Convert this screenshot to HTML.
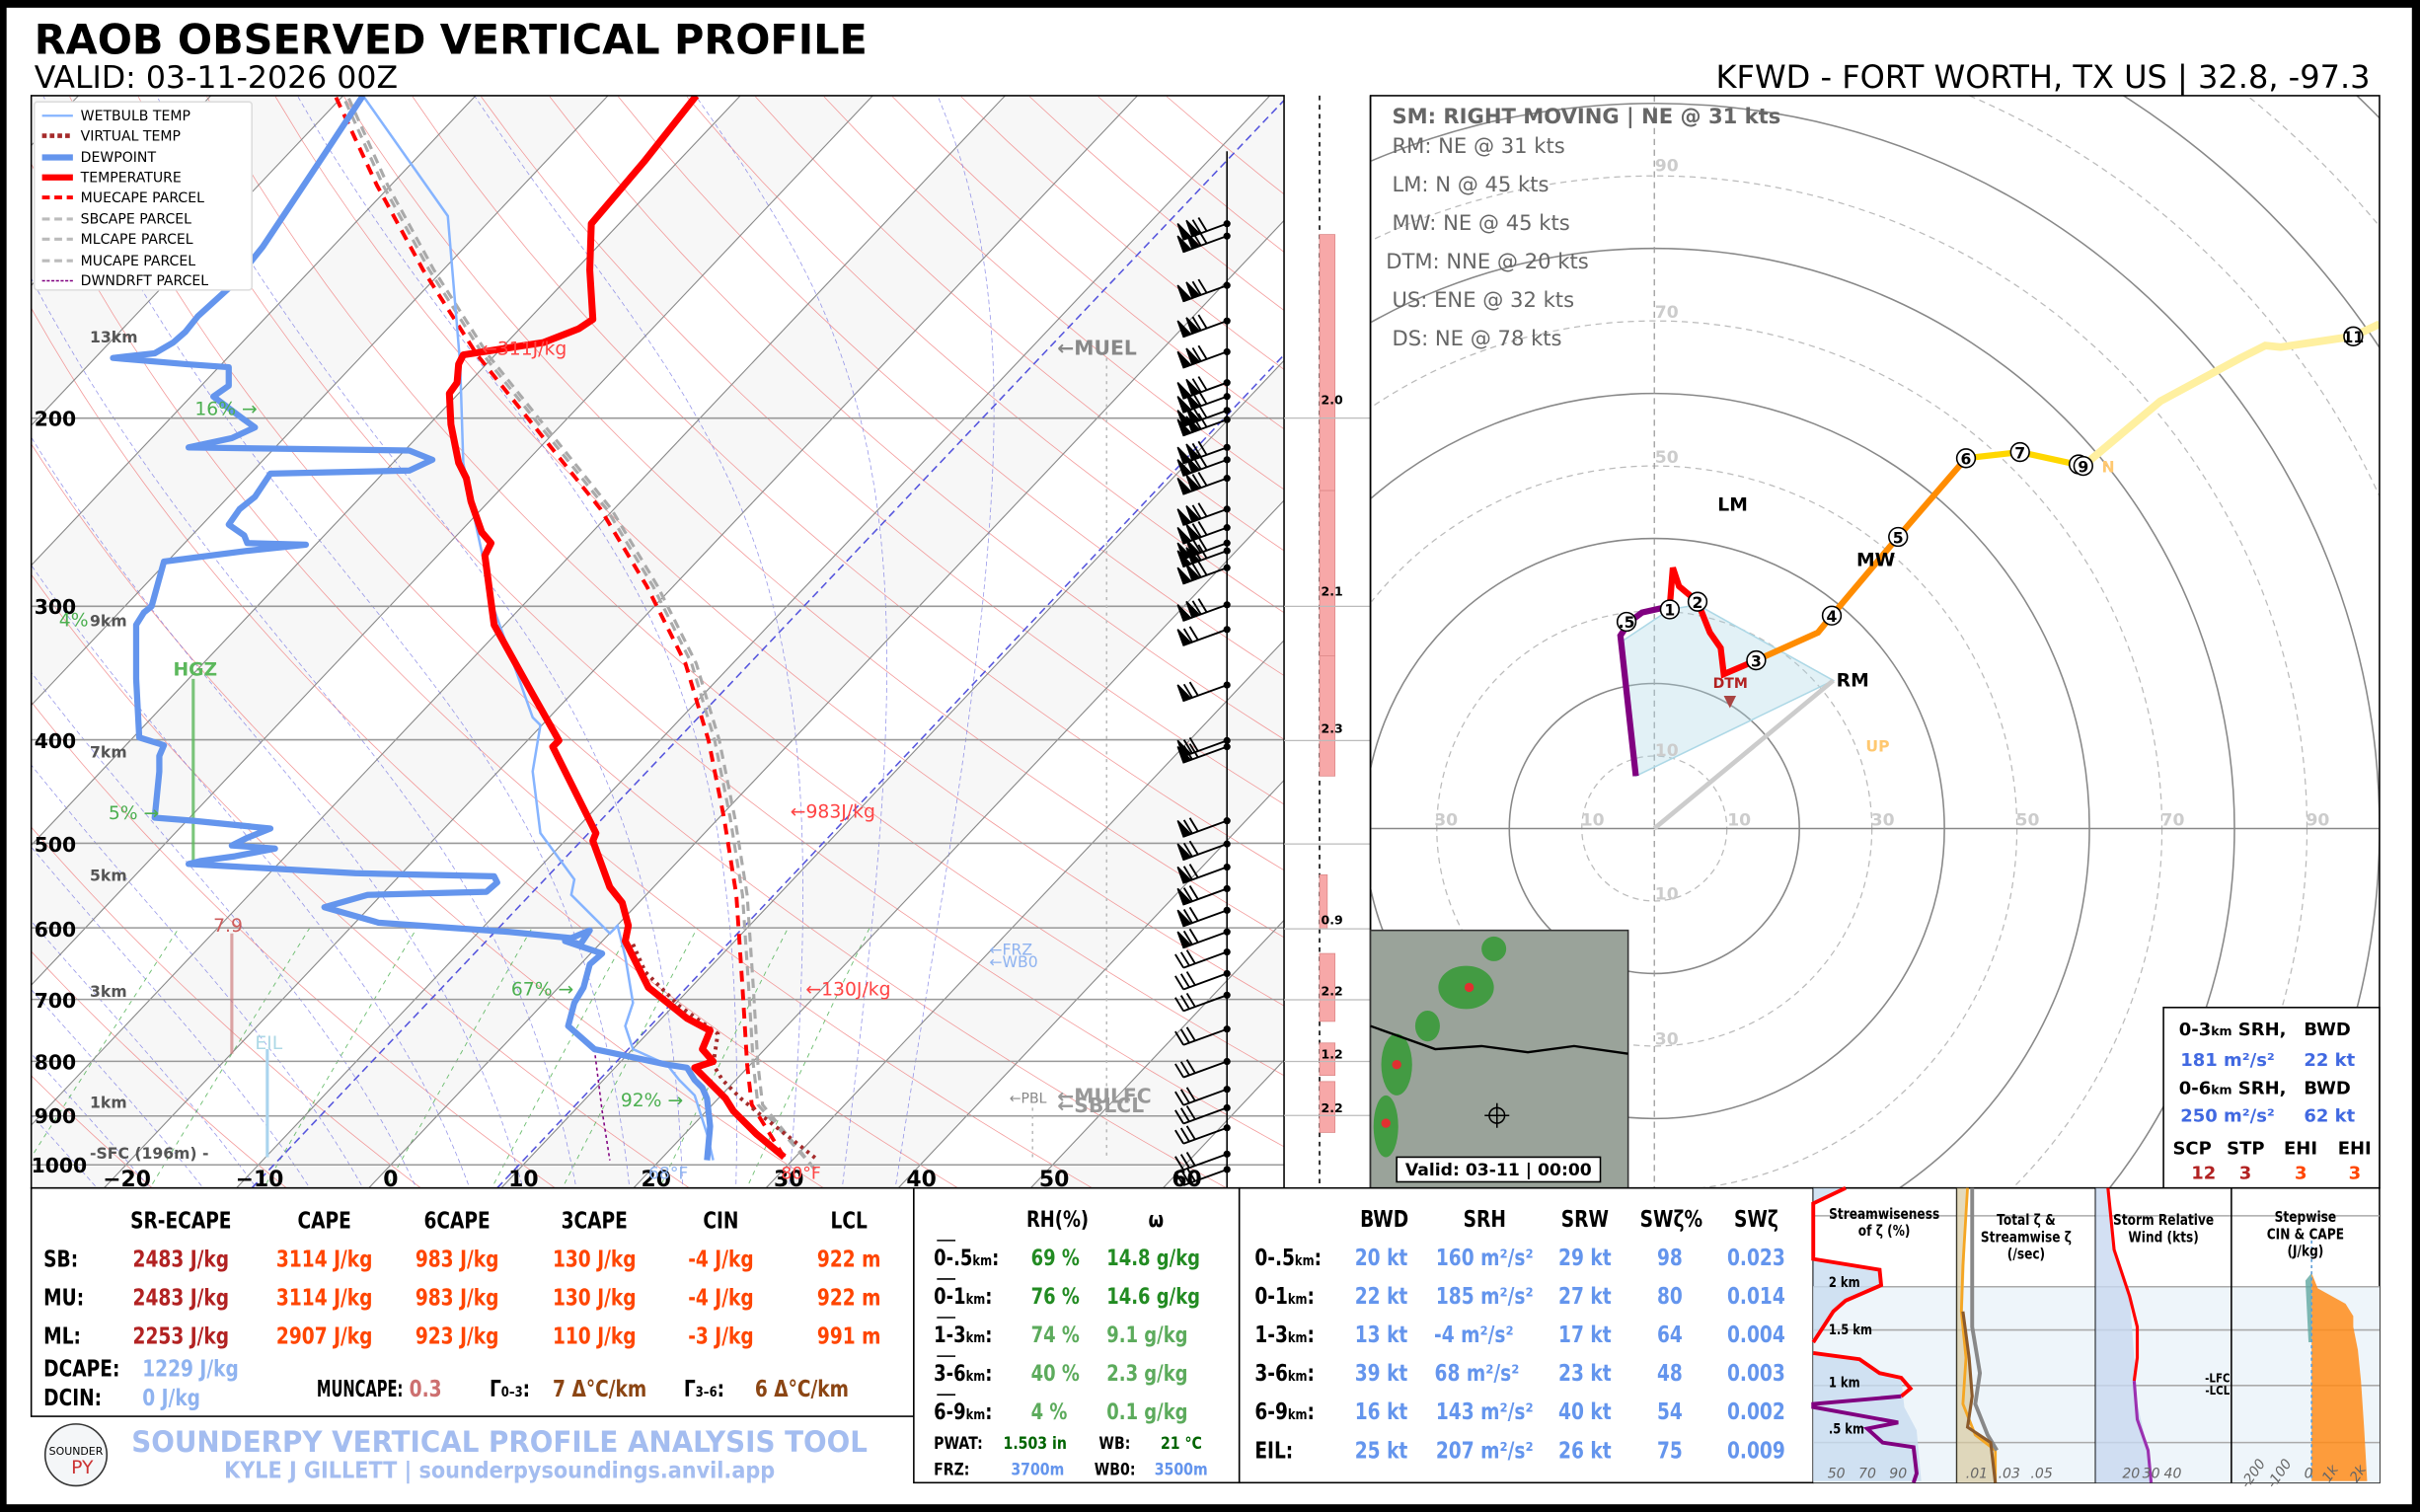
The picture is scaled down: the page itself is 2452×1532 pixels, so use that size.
<!DOCTYPE html>
<html><head><meta charset="utf-8">
<style>
html,body{margin:0;padding:0;background:#000;overflow:hidden;width:2452px;height:1532px;}
svg{display:block;}
text{font-family:"DejaVu Sans","Liberation Sans",sans-serif;}
.cd{font-family:"DejaVu Sans Condensed","DejaVu Sans","Liberation Sans",sans-serif;}
</style></head>
<body>
<svg id="s" xmlns="http://www.w3.org/2000/svg" width="2452" height="1532" viewBox="0 0 1568 980">
<rect x="0" y="0" width="1568" height="980" fill="#000"/>
<rect x="4" y="5" width="1559" height="970" fill="#fff"/>
<defs>
<clipPath id="sk"><rect x="20" y="62" width="812" height="708"/></clipPath>
<clipPath id="hc"><rect x="888" y="62" width="654" height="708"/></clipPath>
</defs>
<text x="22" y="35" font-size="26.5" font-weight="bold">RAOB OBSERVED VERTICAL PROFILE</text>
<text x="22" y="57" font-size="20.2">VALID: 03-11-2026 00Z</text>
<text x="1536" y="57" font-size="20.5" text-anchor="end">KFWD - FORT WORTH, TX US | 32.8, -97.3</text>

<g clip-path="url(#sk)">
<rect x="20" y="62" width="812" height="708" fill="#fff"/>
<g id="bands"></g>
<g id="grid"></g>
<line x1="163" y1="770" x2="832" y2="65" stroke="#5555dd" stroke-width="1" stroke-dasharray="5,3"/>
<line x1="322" y1="770" x2="832" y2="230" stroke="#5555dd" stroke-width="1" stroke-dasharray="5,3"/>
<line x1="717" y1="232" x2="717" y2="752" stroke="#bbb" stroke-dasharray="2,3"/>
<line x1="669" y1="718" x2="669" y2="752" stroke="#bbb" stroke-dasharray="2,3"/>
<line x1="125" y1="440" x2="125" y2="558" stroke="#5cb85c" stroke-width="2" opacity="0.8"/>
<line x1="150" y1="605" x2="150" y2="683" stroke="#d08080" stroke-width="2" opacity="0.7"/>
<line x1="173" y1="680" x2="173" y2="750" stroke="#aad4ee" stroke-width="2"/>
<polyline fill="none" stroke="#aaa" stroke-width="2" stroke-dasharray="6,4" points="528,758 494,716 491,690 488,640 484,580 476,530 466,480 451,430 426,380 396,330 356,280 316,230 281,175 251,120 225,62"/>
<polyline fill="none" stroke="#aaa" stroke-width="2" stroke-dasharray="6,4" points="528,758 491,716 488,690 485,640 481,580 473,530 463,480 448,430 423,380 393,330 353,280 313,230 278,175 248,120 222,62"/>
<polyline fill="none" stroke="#f00" stroke-width="2.5" stroke-dasharray="7,5" points="508,750 487,716 484,690 481,640 477,580 469,530 459,480 444,430 419,380 389,330 349,280 309,230 274,175 244,120 217,62"/>
<polyline fill="none" stroke="#800080" stroke-width="1" stroke-dasharray="2,2" points="385,680 390,720 395,752"/>
<polyline fill="none" stroke="#a52a2a" stroke-width="2.5" stroke-dasharray="2,3" points="410,612 418,630 440,652 465,670 462,690 468,700 480,712 492,722 515,740 530,752"/>
<polyline fill="none" stroke="#86b4ff" stroke-width="1.6" points="235,62 290,140 298,236 300,300 306,330 320,395 345,465 350,470 345,500 350,540 372,570 370,580 395,605 400,600 405,620 410,650 405,665 410,680 432,690 440,700 450,710 458,735 462,752"/>
<polyline fill="none" stroke="#6495ed" stroke-width="4" stroke-linejoin="round" points="235,62 210,100 170,160 150,185 128,205 120,215 112,222 100,229 73,232 120,236 148,238 148,250 138,257 150,266 158,272 165,277 150,284 122,290 265,292 280,298 265,305 175,307 165,322 155,330 148,340 158,347 160,352 198,353 160,357 106,364 98,393 93,397 88,405 88,440 90,478 106,483 103,490 103,500 100,530 125,532 175,537 160,543 150,548 178,550 152,555 130,558 122,560 230,566 320,568 322,572 315,578 238,580 210,588 245,598 330,604 370,608 382,603 376,612 366,610 390,618 382,625 378,640 372,650 368,665 385,680 432,690 445,692 450,700 455,705 458,712 460,730 458,752"/>
<polyline fill="none" stroke="#f00" stroke-width="4.5" stroke-linejoin="round" points="451,62 417,105 383,145 382,175 384,207 375,213 352,222 300,230 297,236 296,248 291,255 292,275 296,295 297,300 302,310 305,325 312,345 318,352 314,360 318,390 320,405 345,450 362,480 358,484 386,540 384,545 395,575 403,585 407,600 405,610 410,620 420,640 445,660 460,668 455,680 462,688 450,692 458,700 470,712 475,720 490,735 508,750"/>
</g>
<rect x="20" y="62" width="812" height="708" fill="none" stroke="#000" stroke-width="1"/>
<g font-size="13" font-weight="bold">
<text x="22" y="276">200</text><text x="22" y="398">300</text><text x="22" y="485">400</text><text x="22" y="552">500</text><text x="22" y="607">600</text><text x="22" y="653">700</text><text x="22" y="693">800</text><text x="22" y="728">900</text><text x="20" y="760">1000</text>
</g>
<g font-size="10" font-weight="bold" fill="#555">
<text x="58" y="222">13km</text><text x="58" y="406">9km</text><text x="58" y="491">7km</text><text x="58" y="571">5km</text><text x="58" y="646">3km</text><text x="58" y="718">1km</text><text x="58" y="751">-SFC (196m) -</text>
</g>
<g font-size="14" font-weight="bold" text-anchor="middle">
<text x="82" y="769">−20</text><text x="168" y="769">−10</text><text x="253" y="769">0</text><text x="339" y="769">10</text><text x="425" y="769">20</text><text x="511" y="769">30</text><text x="597" y="769">40</text><text x="683" y="769">50</text><text x="769" y="769">60</text>
</g>
<g font-size="12">
<text x="126" y="269" fill="#4caf50">16% →</text>
<text x="38" y="406" fill="#4caf50">4%</text>
<text x="112" y="438" fill="#5cb85c" font-weight="bold">HGZ</text>
<text x="70" y="531" fill="#4caf50">5% →</text>
<text x="331" y="645" fill="#4caf50">67% →</text>
<text x="402" y="717" fill="#4caf50">92% →</text>
<text x="138" y="604" fill="#cd5c5c">7.9</text>
<text x="165" y="680" fill="#add8e6">EIL</text>
<text x="312" y="230" fill="#f44">←311J/kg</text>
<text x="512" y="530" fill="#f44">←983J/kg</text>
<text x="522" y="645" fill="#f44">←130J/kg</text>
<text x="685" y="230" fill="#888" font-weight="bold" font-size="13">←MUEL</text>
<text x="641" y="619" fill="#8fb3f0" font-size="10">←FRZ</text>
<text x="641" y="627" fill="#8fb3f0" font-size="10">←WB0</text>
<text x="654" y="715" fill="#888" font-size="9">←PBL</text>
<text x="685" y="715" fill="#999" font-weight="bold" font-size="13">←MULFC</text>
<text x="685" y="721" fill="#999" font-weight="bold" font-size="13">←SBLCL</text>
<text x="420" y="764" fill="#8fb3f0" font-size="11">68°F</text>
<text x="506" y="764" fill="#f44" font-size="11">80°F</text>
</g>
<rect x="22" y="66" width="141" height="122" fill="#fff" stroke="#ddd" rx="2"/>
<g font-size="9">
<line x1="27" y1="75" x2="47" y2="75" stroke="#86b4ff" stroke-width="1.5"/><text x="52" y="78">WETBULB TEMP</text>
<line x1="27" y1="88" x2="47" y2="88" stroke="#a52a2a" stroke-width="3" stroke-dasharray="3,2"/><text x="52" y="91">VIRTUAL TEMP</text>
<line x1="27" y1="102" x2="47" y2="102" stroke="#6495ed" stroke-width="4"/><text x="52" y="105">DEWPOINT</text>
<line x1="27" y1="115" x2="47" y2="115" stroke="#f00" stroke-width="4"/><text x="52" y="118">TEMPERATURE</text>
<line x1="27" y1="128" x2="47" y2="128" stroke="#f00" stroke-width="2.5" stroke-dasharray="5,3"/><text x="52" y="131">MUECAPE PARCEL</text>
<line x1="27" y1="142" x2="47" y2="142" stroke="#bbb" stroke-width="2" stroke-dasharray="5,3"/><text x="52" y="145">SBCAPE PARCEL</text>
<line x1="27" y1="155" x2="47" y2="155" stroke="#bbb" stroke-width="2" stroke-dasharray="5,3"/><text x="52" y="158">MLCAPE PARCEL</text>
<line x1="27" y1="169" x2="47" y2="169" stroke="#bbb" stroke-width="2" stroke-dasharray="5,3"/><text x="52" y="172">MUCAPE PARCEL</text>
<line x1="27" y1="182" x2="47" y2="182" stroke="#800080" stroke-width="1" stroke-dasharray="2,1"/><text x="52" y="185">DWNDRFT PARCEL</text>
</g>
<line x1="795" y1="98" x2="795" y2="770" stroke="#000" stroke-width="1"/>
<g id="barbs" stroke="#000" fill="#000"></g>

<line x1="855" y1="62" x2="855" y2="770" stroke="#000" stroke-dasharray="3,3" stroke-width="1"/>
<g fill="#f7a8a8" stroke="#d88" stroke-width="0.5">
<rect x="855" y="152" width="10" height="166"/><rect x="855" y="318" width="10" height="107"/><rect x="855" y="425" width="10" height="78"/>
<rect x="855" y="567" width="5" height="35"/><rect x="855" y="618" width="10" height="44"/><rect x="855" y="676" width="10" height="21"/><rect x="855" y="701" width="10" height="33"/>
</g>
<g font-size="8" font-weight="bold">
<text x="856" y="262">2.0</text><text x="856" y="386">2.1</text><text x="856" y="475">2.3</text><text x="856" y="599">0.9</text><text x="856" y="645">2.2</text><text x="856" y="686">1.2</text><text x="856" y="721">2.2</text>
</g>
<g stroke="#bbb" stroke-width="0.8"><line x1="832" y1="271" x2="888" y2="271"/><line x1="832" y1="393" x2="888" y2="393"/><line x1="832" y1="480" x2="888" y2="480"/><line x1="832" y1="547" x2="888" y2="547"/><line x1="832" y1="602" x2="888" y2="602"/><line x1="832" y1="648" x2="888" y2="648"/><line x1="832" y1="688" x2="888" y2="688"/><line x1="832" y1="723" x2="888" y2="723"/></g>
<line x1="888" y1="62" x2="888" y2="770" stroke="#000"/>

<g clip-path="url(#hc)" id="hodo">
<g id="rings"></g>
<line x1="888" y1="537" x2="1542" y2="537" stroke="#888" stroke-width="1"/>
<line x1="1072" y1="62" x2="1072" y2="770" stroke="#999" stroke-width="0.8" stroke-dasharray="4,3"/>
<polygon points="1052,415 1060,503 1188,441 1100,392 1082,395" fill="#add8e6" fill-opacity="0.35" stroke="#add8e6"/>
<line x1="1072" y1="537" x2="1188" y2="441" stroke="#ccc" stroke-width="3"/>
<polyline fill="none" stroke="#800080" stroke-width="4" points="1060,503 1050,412 1056,403 1064,397 1082,393"/>
<polyline fill="none" stroke="#f00" stroke-width="4" points="1082,393 1084,368 1088,380 1100,390 1108,410 1115,420 1117,437 1138,428"/>
<polyline fill="none" stroke="#ff8c00" stroke-width="4" points="1138,428 1178,410 1187,399 1230,348 1274,297"/>
<polyline fill="none" stroke="#ffd700" stroke-width="4" points="1274,297 1309,293 1350,302"/>
<polyline fill="none" stroke="#fff0a0" stroke-width="5" points="1350,302 1400,260 1452,232 1468,224 1478,225 1525,218 1542,210"/>
<g font-size="10" text-anchor="middle" font-weight="bold">
<g fill="#fff" stroke="#000" stroke-width="1">
<circle cx="1054" cy="403" r="6"/><circle cx="1082" cy="395" r="6"/><circle cx="1100" cy="390" r="6"/><circle cx="1138" cy="428" r="6"/><circle cx="1187" cy="399" r="6"/><circle cx="1230" cy="348" r="6"/><circle cx="1274" cy="297" r="6"/><circle cx="1309" cy="293" r="6"/><circle cx="1347" cy="301" r="6"/><circle cx="1350" cy="302" r="6"/><circle cx="1525" cy="218" r="6"/>
</g>
<text x="1054" y="407">.5</text><text x="1082" y="399">1</text><text x="1100" y="394">2</text><text x="1138" y="432">3</text><text x="1187" y="403">4</text><text x="1230" y="352">5</text><text x="1274" y="301">6</text><text x="1309" y="297">7</text><text x="1350" y="306">9</text><text x="1525" y="222">11</text>
</g>
<text x="1362" y="306" font-size="10" fill="#ffc870" font-weight="bold">N</text>
<g font-size="12" font-weight="bold">
<text x="1113" y="331">LM</text><text x="1203" y="367">MW</text><text x="1190" y="445">RM</text>
<text x="1110" y="446" font-size="9" fill="#b22222">DTM</text>
<text x="1209" y="487" font-size="10" fill="#ffc870">UP</text>
</g>
<polygon points="1117,451 1125,451 1121,459" fill="#a94442"/>
<g font-size="11" fill="#ccc" font-weight="bold" text-anchor="middle">
<text x="1080" y="111">90</text><text x="1080" y="206">70</text><text x="1080" y="300">50</text><text x="1080" y="490">10</text><text x="1080" y="583">10</text><text x="1080" y="677">30</text>
<text x="937" y="535">30</text><text x="1032" y="535">10</text><text x="1127" y="535">10</text><text x="1220" y="535">30</text><text x="1314" y="535">50</text><text x="1408" y="535">70</text><text x="1502" y="535">90</text>
</g>
</g>
<rect x="888" y="62" width="654" height="708" fill="none" stroke="#000"/>
<g font-size="13.5" fill="#666">
<text x="902" y="80" font-weight="bold">SM: RIGHT MOVING | NE @ 31 kts</text>
<text x="902" y="99">RM: NE @ 31 kts</text>
<text x="902" y="124">LM: N @ 45 kts</text>
<text x="902" y="149">MW: NE @ 45 kts</text>
<text x="898" y="174">DTM: NNE @ 20 kts</text>
<text x="902" y="199">US: ENE @ 32 kts</text>
<text x="902" y="224">DS: NE @ 78 kts</text>
</g>
<rect x="888" y="603" width="167" height="167" fill="#9aa39a" stroke="#333"/>
<g fill="#3a9b3a" opacity="0.9">
<ellipse cx="905" cy="690" rx="10" ry="20"/><ellipse cx="950" cy="640" rx="18" ry="14"/><ellipse cx="925" cy="665" rx="8" ry="10"/><ellipse cx="898" cy="730" rx="8" ry="20"/><ellipse cx="968" cy="615" rx="8" ry="8"/>
</g>
<g fill="#e03030"><circle cx="905" cy="690" r="3"/><circle cx="952" cy="640" r="3"/><circle cx="898" cy="728" r="3"/></g>
<polyline points="888,665 930,680 960,678 990,682 1020,678 1055,683" fill="none" stroke="#000" stroke-width="1.5"/>
<circle cx="970" cy="723" r="5" fill="none" stroke="#000"/><line x1="962" y1="723" x2="978" y2="723" stroke="#000"/><line x1="970" y1="715" x2="970" y2="731" stroke="#000"/>
<rect x="905" y="750" width="132" height="16" fill="#fff" stroke="#000"/>
<text x="971" y="762" font-size="11" font-weight="bold" text-anchor="middle">Valid: 03-11 | 00:00</text>
<rect x="1402" y="653" width="140" height="117" fill="#fff" stroke="#000"/>
<g font-size="11.5" font-weight="bold">
<text x="1412" y="671">0-3<tspan font-size="8">km</tspan> SRH,</text><text x="1493" y="671">BWD</text>
<text x="1413" y="691" fill="#4169e1">181 m²/s²</text><text x="1493" y="691" fill="#4169e1">22 kt</text>
<text x="1412" y="709">0-6<tspan font-size="8">km</tspan> SRH,</text><text x="1493" y="709">BWD</text>
<text x="1413" y="727" fill="#4169e1">250 m²/s²</text><text x="1493" y="727" fill="#4169e1">62 kt</text>
<text x="1408" y="748">SCP</text><text x="1443" y="748">STP</text><text x="1480" y="748">EHI</text><text x="1515" y="748">EHI</text>
<text x="1420" y="764" fill="#b22222">12</text><text x="1451" y="764" fill="#b22222">3</text><text x="1487" y="764" fill="#ff4500">3</text><text x="1522" y="764" fill="#ff4500">3</text>
</g>

<rect x="20" y="770" width="572" height="148" fill="#fff" stroke="#000"/>
<text x="205" y="905" font-size="14.5" font-weight="bold" class="cd" textLength="56" lengthAdjust="spacingAndGlyphs">MUNCAPE:</text>
<g font-size="14.5" font-weight="bold" class="c">
<g text-anchor="middle"><text x="117" y="796">SR-ECAPE</text><text x="210" y="796">CAPE</text><text x="296" y="796">6CAPE</text><text x="385" y="796">3CAPE</text><text x="467" y="796">CIN</text><text x="550" y="796">LCL</text></g>
<text x="28" y="821">SB:</text><text x="28" y="846">MU:</text><text x="28" y="871">ML:</text>
<g text-anchor="middle">
<g fill="#b22222"><text x="117" y="821">2483 J/kg</text><text x="117" y="846">2483 J/kg</text><text x="117" y="871">2253 J/kg</text></g>
<g fill="#ff4500">
<text x="210" y="821">3114 J/kg</text><text x="296" y="821">983 J/kg</text><text x="385" y="821">130 J/kg</text><text x="467" y="821">-4 J/kg</text><text x="550" y="821">922 m</text>
<text x="210" y="846">3114 J/kg</text><text x="296" y="846">983 J/kg</text><text x="385" y="846">130 J/kg</text><text x="467" y="846">-4 J/kg</text><text x="550" y="846">922 m</text>
<text x="210" y="871">2907 J/kg</text><text x="296" y="871">923 J/kg</text><text x="385" y="871">110 J/kg</text><text x="467" y="871">-3 J/kg</text><text x="550" y="871">991 m</text>
</g></g>
<text x="28" y="892">DCAPE:</text><text x="92" y="892" fill="#8fb3f0">1229 J/kg</text>
<text x="28" y="911">DCIN:</text><text x="92" y="911" fill="#8fb3f0">0 J/kg</text>
<text x="265" y="905" fill="#cd7070">0.3</text>
<text x="317" y="905">Γ<tspan font-size="9">0–3</tspan>:</text><text x="358" y="905" fill="#8b4513">7 Δ°C/km</text>
<text x="443" y="905">Γ<tspan font-size="9">3–6</tspan>:</text><text x="489" y="905" fill="#8b4513">6 Δ°C/km</text>
</g>
<circle cx="49" cy="943" r="20" fill="#f4f6f8" stroke="#333"/>
<text x="49" y="943" font-size="7" text-anchor="middle">SOUNDER</text>
<text x="53" y="955" font-size="12" text-anchor="middle" fill="#c33">PY</text>
<text x="85" y="941" font-size="18.5" font-weight="bold" fill="#a4bdf0" class="cd" textLength="477" lengthAdjust="spacingAndGlyphs">SOUNDERPY VERTICAL PROFILE ANALYSIS TOOL</text>
<text x="145" y="958" font-size="14.5" font-weight="bold" fill="#a4bdf0" class="cd" textLength="357" lengthAdjust="spacingAndGlyphs">KYLE J GILLETT | sounderpysoundings.anvil.app</text>

<rect x="592" y="770" width="211" height="191" fill="#fff" stroke="#000"/>
<g font-size="14" font-weight="bold" class="c">
<text x="665" y="795">RH(%)</text><text x="744" y="795">ω</text>
<g stroke="#000" stroke-width="1"><line x1="607" y1="804" x2="619" y2="804"/><line x1="607" y1="829" x2="619" y2="829"/><line x1="607" y1="854" x2="619" y2="854"/><line x1="607" y1="879" x2="619" y2="879"/><line x1="607" y1="904" x2="619" y2="904"/></g>
<text x="605" y="820">0-.5<tspan font-size="9">km</tspan>:</text><text x="605" y="845">0-1<tspan font-size="9">km</tspan>:</text><text x="605" y="870">1-3<tspan font-size="9">km</tspan>:</text><text x="605" y="895">3-6<tspan font-size="9">km</tspan>:</text><text x="605" y="920">6-9<tspan font-size="9">km</tspan>:</text>
<g fill="#228b22"><text x="668" y="820">69 %</text><text x="717" y="820">14.8 g/kg</text><text x="668" y="845">76 %</text><text x="717" y="845">14.6 g/kg</text></g>
<g fill="#5cab5c"><text x="668" y="870">74 %</text><text x="717" y="870">9.1 g/kg</text><text x="668" y="895">40 %</text><text x="717" y="895">2.3 g/kg</text><text x="668" y="920">4 %</text><text x="717" y="920">0.1 g/kg</text></g>
<g font-size="11"><text x="605" y="939">PWAT:</text><text x="650" y="939" fill="#006400">1.503 in</text><text x="712" y="939">WB:</text><text x="752" y="939" fill="#006400">21 °C</text>
<text x="605" y="956">FRZ:</text><text x="655" y="956" fill="#6495ed">3700m</text><text x="709" y="956">WB0:</text><text x="748" y="956" fill="#6495ed">3500m</text></g>
</g>
<rect x="803" y="770" width="372" height="191" fill="#fff" stroke="#000"/>
<g font-size="14.5" font-weight="bold" class="c">
<g text-anchor="middle"><text x="897" y="795">BWD</text><text x="962" y="795">SRH</text><text x="1027" y="795">SRW</text><text x="1083" y="795">SWζ%</text><text x="1138" y="795">SWζ</text></g>
<text x="813" y="820">0-.5<tspan font-size="9">km</tspan>:</text><text x="813" y="845">0-1<tspan font-size="9">km</tspan>:</text><text x="813" y="870">1-3<tspan font-size="9">km</tspan>:</text><text x="813" y="895">3-6<tspan font-size="9">km</tspan>:</text><text x="813" y="920">6-9<tspan font-size="9">km</tspan>:</text><text x="813" y="945">EIL:</text>
<g fill="#6495ed" text-anchor="middle">
<text x="895" y="820">20 kt</text><text x="962" y="820">160 m²/s²</text><text x="1027" y="820">29 kt</text><text x="1082" y="820">98</text><text x="1138" y="820">0.023</text>
<text x="895" y="845">22 kt</text><text x="962" y="845">185 m²/s²</text><text x="1027" y="845">27 kt</text><text x="1082" y="845">80</text><text x="1138" y="845">0.014</text>
<text x="895" y="870">13 kt</text><text x="955" y="870">-4 m²/s²</text><text x="1027" y="870">17 kt</text><text x="1082" y="870">64</text><text x="1138" y="870">0.004</text>
<text x="895" y="895">39 kt</text><text x="957" y="895">68 m²/s²</text><text x="1027" y="895">23 kt</text><text x="1082" y="895">48</text><text x="1138" y="895">0.003</text>
<text x="895" y="920">16 kt</text><text x="962" y="920">143 m²/s²</text><text x="1027" y="920">40 kt</text><text x="1082" y="920">54</text><text x="1138" y="920">0.002</text>
<text x="895" y="945">25 kt</text><text x="962" y="945">207 m²/s²</text><text x="1027" y="945">26 kt</text><text x="1082" y="945">75</text><text x="1138" y="945">0.009</text>
</g></g>
<rect x="1175" y="770" width="367" height="191" fill="#fff" stroke="#000"/>
<rect x="1175" y="834" width="367" height="127" fill="#eef5fa"/>
<g stroke="#aaa" stroke-width="1"><line x1="1175" y1="834" x2="1542" y2="834"/><line x1="1175" y1="862" x2="1542" y2="862"/><line x1="1175" y1="898" x2="1542" y2="898"/><line x1="1175" y1="935" x2="1542" y2="935"/><line x1="1175" y1="788" x2="1542" y2="788"/></g>
<polygon points="1175,770 1196,770 1175,780 1175,816 1218,823 1219,833 1196,843 1188,850 1175,870 1175,877 1205,881 1218,890 1232,893 1234,912 1242,927 1245,960 1175,960" fill="#c8dcf0" opacity="0.8"/>
<polyline fill="none" stroke="#f00" stroke-width="2.5" points="1196,770 1175,780 1175,816 1218,823 1219,833 1196,843 1188,850 1175,870"/>
<polyline fill="none" stroke="#f00" stroke-width="2.5" points="1175,877 1205,881 1218,890 1232,893 1238,900 1232,905"/>
<polyline fill="none" stroke="#800080" stroke-width="2.5" points="1232,905 1175,910 1175,912 1230,922 1210,926 1220,935 1240,938 1242,955 1240,961"/>
<line x1="1268" y1="770" x2="1268" y2="961" stroke="#000"/><line x1="1358" y1="770" x2="1358" y2="961" stroke="#000"/><line x1="1446" y1="770" x2="1446" y2="961" stroke="#000"/>
<polygon points="1268,770 1275,770 1272,850 1276,880 1278,905 1275,925 1290,935 1293,961 1268,961" fill="#d8cba0" opacity="0.7"/>
<polyline fill="none" stroke="#f5a623" stroke-width="1.8" points="1275,770 1272,820 1271,850 1274,880 1272,910 1280,930 1293,940 1293,961"/>
<polyline fill="none" stroke="#888" stroke-width="2.5" points="1278,770 1278,820 1278,860 1283,890 1280,910 1288,930 1294,940"/>
<polyline fill="none" stroke="#8b5a2b" stroke-width="2" points="1272,850 1276,880 1278,905 1275,925 1290,935 1293,961"/>
<polygon points="1358,770 1366,770 1370,810 1380,840 1383,880 1385,910 1392,940 1394,961 1358,961" fill="#c8d8f0" opacity="0.8"/>
<polyline fill="none" stroke="#f00" stroke-width="2" points="1366,770 1370,810 1380,840 1385,860 1385,880 1383,895"/>
<polyline fill="none" stroke="#9b30b0" stroke-width="2" points="1383,895 1385,920 1392,940 1394,961"/>
<polygon points="1498,825 1502,835 1520,845 1525,853 1525,860 1528,875 1530,895 1532,925 1534,960 1498,960" fill="#ff8c1a" opacity="0.85"/>
<polygon points="1498,825 1494,830 1496,870 1498,870" fill="#5fa8a0" opacity="0.8"/>
<line x1="1498" y1="800" x2="1498" y2="960" stroke="#5b9bd5" stroke-dasharray="2,2"/>
<g font-size="9.5" font-weight="bold" text-anchor="middle" class="c">
<text x="1221" y="790">Streamwiseness</text><text x="1221" y="801">of ζ (%)</text>
<text x="1313" y="794">Total ζ &amp;</text><text x="1313" y="805">Streamwise ζ</text><text x="1313" y="816">(/sec)</text>
<text x="1402" y="794">Storm Relative</text><text x="1402" y="805">Wind (kts)</text>
<text x="1494" y="792">Stepwise</text><text x="1494" y="803">CIN &amp; CAPE</text><text x="1494" y="814">(J/kg)</text>
<g text-anchor="start" font-size="9"><text x="1185" y="834">2 km</text><text x="1185" y="865">1.5 km</text><text x="1185" y="899">1 km</text><text x="1185" y="929">.5 km</text></g>
<text x="1437" y="896" font-size="8">-LFC</text><text x="1437" y="904" font-size="8">-LCL</text>
</g>
<g font-size="9" fill="#666" font-style="italic" text-anchor="middle">
<text x="1190" y="958">50</text><text x="1210" y="958">70</text><text x="1230" y="958">90</text>
<text x="1281" y="958">.01</text><text x="1302" y="958">.03</text><text x="1323" y="958">.05</text>
<text x="1381" y="958">20</text><text x="1394" y="958">30</text><text x="1408" y="958">40</text>
<text x="1460" y="958" transform="rotate(-55 1460 955)">-200</text><text x="1477" y="958" transform="rotate(-55 1477 955)">-100</text><text x="1496" y="958">0</text><text x="1510" y="958" transform="rotate(-55 1510 955)">1k</text><text x="1528" y="958" transform="rotate(-55 1528 955)">2k</text>
</g>

<script><![CDATA[
(function(){
var NS="http://www.w3.org/2000/svg";
function el(p,t,a){var e=document.createElementNS(NS,t);for(var k in a)e.setAttribute(k,a[k]);p.appendChild(e);return e;}
function Y(p){return 755-300.7*Math.log(1000/p);}
function X(T,p){return 253+8.58*T+(755-Y(p))*0.946;}
var bands=document.getElementById('bands'),grid=document.getElementById('grid');
var pb=1060,pt=95;
for(var T=-150;T<=70;T+=20){
 el(bands,'polygon',{points:[X(T,pb),Y(pb),X(T+10,pb),Y(pb),X(T+10,pt),Y(pt),X(T,pt),Y(pt)].join(' '),fill:'#f7f7f7'});
}
for(var th=-60;th<=220;th+=10){var pts=[];for(var p=1060;p>=95;p-=10){var TT=(th+273.15)*Math.pow(p/1000,0.2857)-273.15;pts.push(X(TT,p)+','+Y(p));}
 el(grid,'polyline',{points:pts.join(' '),fill:'none',stroke:'#f08080','stroke-width':0.5,opacity:0.8});}
function es(T){return 6.112*Math.exp(17.67*T/(T+243.5));}
for(var t0=-20;t0<=40;t0+=4){var pts=[],TT=t0;for(var p=1060;p>=100;p-=5){pts.push(X(TT,p)+','+Y(p));var Tk=TT+273.15,rs=0.622*es(TT)/(p-es(TT));var d=(287*Tk+2.5e6*rs)/(1004+2.5e6*2.5e6*rs*0.622/(287*Tk*Tk))/p;TT-=d*5;if(TT<-120)break;}
 el(grid,'polyline',{points:pts.join(' '),fill:'none',stroke:'#6a6ae0','stroke-width':0.5,'stroke-dasharray':'3,2',opacity:0.7});}
[0.4,1,2,4,7,10,16,24].forEach(function(w){var pts=[];for(var p=1060;p>=600;p-=20){var e=w/1000*p/(0.622+w/1000);var l=Math.log(e/6.112);var Td=243.5*l/(17.67-l);pts.push(X(Td,p)+','+Y(p));}
 el(grid,'polyline',{points:pts.join(' '),fill:'none',stroke:'#4caf50','stroke-width':0.6,'stroke-dasharray':'3,3',opacity:0.8});});
for(var T=-150;T<=70;T+=10){el(grid,'line',{x1:X(T,pb),y1:Y(pb),x2:X(T,pt),y2:Y(pt),stroke:'#888','stroke-width':0.7});}
[200,300,400,500,600,700,800,900,1000].forEach(function(p){el(grid,'line',{x1:20,y1:Y(p),x2:832,y2:Y(p),stroke:'#999','stroke-width':1});});
var r=document.getElementById('rings');
for(var k=1;k<=16;k++){var solid=(k%2==0);el(r,'circle',{cx:1072,cy:537,r:k*47,fill:'none',stroke:solid?'#888':'#bbb','stroke-width':solid?1:0.8,'stroke-dasharray':solid?'none':'4,3'});}
var b=document.getElementById('barbs');
var ys=[145,153,185,208,228,248,257,266,272,290,298,310,330,342,352,357,368,392,408,444,480,484,532,547,562,576,590,604,617,631,645,667,688,706,718,731,748,758];
ys.forEach(function(y,i){var len=30,ang=Math.PI*(200/180);var dx=Math.cos(ang)*len,dy=-Math.sin(ang)*len;
 var x2=795+dx,y2=y+dy;el(b,'line',{x1:795,y1:y,x2:x2,y2:y2,'stroke-width':1.2});
 el(b,'circle',{cx:795,cy:y,r:1.8});
 var nf=i<18?2:(i<28?1:0);var nb=i<28?2:3;
 var ux=dx/len,uy=dy/len,px=-uy,py=ux;if(py>0){px=-px;py=-py;}
 var pos=0;
 for(var f=0;f<nf;f++){var ax=x2-ux*pos,ay=y2-uy*pos,bx=x2-ux*(pos+5),by=y2-uy*(pos+5);el(b,'polygon',{points:[ax,ay,ax+px*11,ay+py*11,bx,by].join(' ')});pos+=6;}
 for(var f=0;f<nb;f++){var ax=x2-ux*pos,ay=y2-uy*pos;el(b,'line',{x1:ax,y1:ay,x2:ax+px*10+ux*2,y2:ay+py*10+uy*2,'stroke-width':1.2});pos+=4;}
});
var ts=document.querySelectorAll('.c text');
for(var i=0;i<ts.length;i++){var t=ts[i];try{var L=t.getComputedTextLength();if(L>0){t.setAttribute('textLength',(L*0.82).toFixed(1));t.setAttribute('lengthAdjust','spacingAndGlyphs');}}catch(e){}}
})();
]]></script>
</svg>
</body></html>
